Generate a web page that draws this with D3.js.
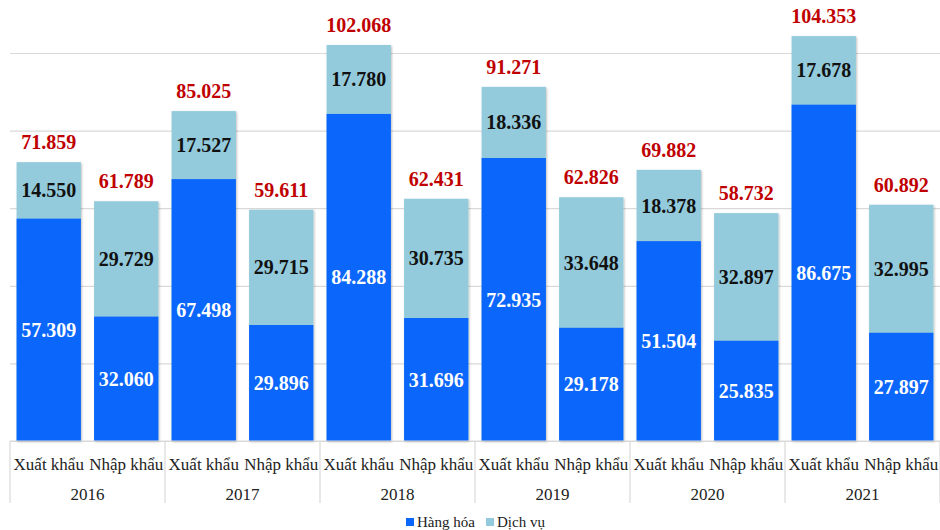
<!DOCTYPE html>
<html>
<head>
<meta charset="utf-8">
<script src="https://cdn.jsdelivr.net/npm/d3@7"></script>
<style>
  body { margin: 0; background: #fff; }
  svg, svg text { font-family: 'Liberation Serif', 'Times New Roman', Tinos, 'DejaVu Serif', serif !important; }
</style>
</head>
<body>
<div id="chart"></div>
<script>
// data
var years = ["2016", "2017", "2018", "2019", "2020", "2021"];
var types = ["Xuất khẩu", "Nhập khẩu"];
var seriesNames = ["Hàng hóa", "Dịch vụ"];
var exportGoods = [57.309, 67.498, 84.288, 72.935, 51.504, 86.675];
var exportServices = [14.550, 17.527, 17.780, 18.336, 18.378, 17.678];
var importGoods = [32.060, 29.896, 31.696, 29.178, 25.835, 27.897];
var importServices = [29.729, 29.715, 30.735, 33.648, 32.897, 32.995];
var gridTicks = [0, 20, 40, 60, 80, 100];

var colors = { "Hàng hóa": "#0b66fb", "Dịch vụ": "#93cbdc" };

var width = 940, height = 530;
var margin = { left: 10, right: 0, top: 53, bottom: 89 };
var baseY = height - margin.bottom;

var svg = d3.select("#chart").append("svg")
  .attr("width", width)
  .attr("height", height)
  .attr("font-family", "'Liberation Serif', 'Times New Roman', serif");

var defs = svg.append("defs");
defs.append("filter").attr("id", "shadow")
  .attr("x", "-10%").attr("y", "-10%").attr("width", "130%").attr("height", "130%")
  .append("feDropShadow")
  .attr("dx", 1).attr("dy", 1).attr("stdDeviation", 1.2)
  .attr("flood-color", "#000").attr("flood-opacity", 0.25);

// build rows: one per bar
var rows = [];
years.forEach(function (yr, i) {
  rows.push({ year: yr, type: types[0], goods: exportGoods[i], services: exportServices[i] });
  rows.push({ year: yr, type: types[1], goods: importGoods[i], services: importServices[i] });
});

var x0 = d3.scaleBand().domain(years).range([margin.left, width - margin.right]);
var x1 = d3.scaleBand().domain(types).range([0, x0.bandwidth()]).paddingInner(0.17).paddingOuter(0.085);
var y = d3.scaleLinear().domain([0, 100]).range([baseY, margin.top]);

// gridlines
svg.append("g")
  .attr("transform", `translate(${margin.left},0)`)
  .call(d3.axisLeft(y).tickValues(gridTicks).tickSize(-(width - margin.left - margin.right)).tickFormat(""))
  .call(g => g.select(".domain").remove())
  .call(g => g.selectAll(".tick line").attr("stroke", "#d9d9d9").attr("stroke-width", 1.2));

// bars
var groups = svg.selectAll(".bar")
  .data(rows)
  .enter()
  .append("g")
  .attr("class", "bar")
  .attr("transform", d => `translate(${x0(d.year) + x1(d.type)},0)`);

groups.append("rect")
  .attr("y", d => y(d.goods + d.services))
  .attr("width", x1.bandwidth())
  .attr("height", d => baseY - y(d.goods + d.services))
  .attr("fill", colors["Dịch vụ"])
  .attr("filter", "url(#shadow)");

groups.append("rect")
  .attr("y", d => y(d.goods))
  .attr("width", x1.bandwidth())
  .attr("height", d => baseY - y(d.goods))
  .attr("fill", colors["Hàng hóa"]);

var fmt = d3.format(".3f");

// segment labels
groups.append("text")
  .attr("x", x1.bandwidth() / 2)
  .attr("y", d => (y(d.goods) + baseY) / 2)
  .attr("dy", "0.35em")
  .attr("text-anchor", "middle")
  .attr("font-size", "20px")
  .attr("font-weight", "700")
  .attr("fill", "#fff")
  .text(d => fmt(d.goods));

groups.append("text")
  .attr("x", x1.bandwidth() / 2)
  .attr("y", d => (y(d.goods + d.services) + y(d.goods)) / 2)
  .attr("dy", "0.35em")
  .attr("text-anchor", "middle")
  .attr("font-size", "20px")
  .attr("font-weight", "700")
  .attr("fill", "#111")
  .text(d => fmt(d.services));

// totals
groups.append("text")
  .attr("x", x1.bandwidth() / 2)
  .attr("y", d => y(d.goods + d.services) - 20)
  .attr("dy", "0.35em")
  .attr("text-anchor", "middle")
  .attr("font-size", "20px")
  .attr("font-weight", "700")
  .attr("fill", "#c00000")
  .text(d => fmt(d.goods + d.services));

// category axis
var axisG = svg.append("g");
axisG.append("line")
  .attr("x1", margin.left).attr("x2", width - margin.right)
  .attr("y1", baseY).attr("y2", baseY)
  .attr("stroke", "#d9d9d9").attr("stroke-width", 1.2);

var bounds = years.map(d => x0(d)).concat([x0(years[years.length - 1]) + x0.bandwidth()]);
axisG.selectAll(".sep")
  .data(bounds)
  .enter()
  .append("line")
  .attr("x1", d => d).attr("x2", d => d)
  .attr("y1", baseY).attr("y2", baseY + 62)
  .attr("stroke", "#d9d9d9").attr("stroke-width", 1.2);

axisG.selectAll(".typeLabel")
  .data(rows)
  .enter()
  .append("text")
  .attr("x", d => x0(d.year) + x1(d.type) + x1.bandwidth() / 2)
  .attr("y", baseY + 23)
  .attr("dy", "0.35em")
  .attr("text-anchor", "middle")
  .attr("font-size", "17px")
  .attr("fill", "#222")
  .text(d => d.type);

axisG.selectAll(".yearLabel")
  .data(years)
  .enter()
  .append("text")
  .attr("x", d => x0(d) + x0.bandwidth() / 2)
  .attr("y", baseY + 53)
  .attr("dy", "0.35em")
  .attr("text-anchor", "middle")
  .attr("font-size", "17px")
  .attr("fill", "#222")
  .text(d => d);

// legend
var legend = svg.append("g").attr("transform", "translate(406,522)");
var legendX = [0, 80];
seriesNames.forEach(function (name, i) {
  var item = legend.append("g").attr("transform", `translate(${legendX[i]},0)`);
  item.append("rect")
    .attr("x", 0).attr("y", -4)
    .attr("width", 8).attr("height", 8)
    .attr("fill", colors[name]);
  item.append("text")
    .attr("x", 11)
    .attr("y", 0)
    .attr("dy", "0.35em")
    .attr("font-size", "15px")
    .attr("fill", "#222")
    .text(name);
});
</script>
</body>
</html>
